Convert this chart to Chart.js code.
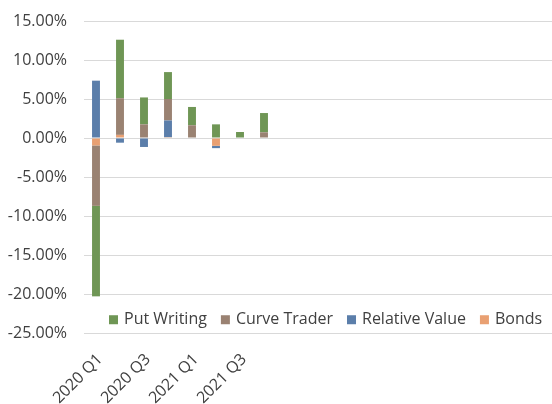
<!DOCTYPE html>
<html>
<head>
<meta charset="utf-8">
<script src="https://cdn.jsdelivr.net/npm/chart.js@4.4.1/dist/chart.umd.min.js"></script>
<style>
  html, body { margin: 0; padding: 0; background: #fff; overflow: hidden; }
  #wrap { width: 552px; height: 404px; overflow: hidden; }
  #chart { display: block; }
</style>
</head>
<body>
<!-- la zone du graphique déborde un peu à droite, comme dans l'original -->
<div id="wrap"><canvas id="chart" width="564" height="404"></canvas></div>
<script>
// ---------------------------------------------------------
// Données (en %)
// ---------------------------------------------------------

const quarters = ["2020 Q1", "2020 Q2", "2020 Q3", "2020 Q4", "2021 Q1", "2021 Q2", "2021 Q3", "2021 Q4",
                  "", "", "", "", "", "", "", "", "", "", "", ""];

const bonds         = [-0.95,  0.40,  0.00, 0.10, 0.00, -1.00, 0.00, 0.00];
const relativeValue = [ 7.35, -0.60, -1.15, 2.15, 0.00, -0.30, 0.00, 0.00];
const curveTrader   = [-7.75,  4.70,  1.75, 2.75, 1.63,  0.00, 0.00, 0.73];
const putWriting    = [-11.60, 7.50,  3.45, 3.45, 2.35,  1.75, 0.77, 2.47];

const yTicks = { min: -25, max: 15, step: 5 };

const textColor = "#404040";
const fontFamily = "'Open Sans', 'Noto Sans', sans-serif";
const noLine = "rgba(0,0,0,0)";

// ---------------------------------------------------------
// Légende dessinée dans la zone du graphique
// ---------------------------------------------------------

const innerLegend = {
    id: "innerLegend",
    afterDraw(chart) {
        const ctx = chart.ctx;
        const area = chart.chartArea;
        const items = chart.data.datasets.slice().reverse();
        const box = 9, gapText = 6, gapItem = 14;

        ctx.save();
        ctx.font = "16px " + fontFamily;
        ctx.textBaseline = "middle";
        ctx.textAlign = "left";

        let x = area.left + 25;
        const y = chart.scales.y.getPixelForValue(-23.3);

        items.forEach(d => {
            ctx.fillStyle = d.backgroundColor;
            ctx.fillRect(x, y - box / 2, box, box);
            ctx.fillStyle = textColor;
            ctx.fillText(d.label, x + box + gapText, y);
            x += box + gapText + ctx.measureText(d.label).width + gapItem;
        });
        ctx.restore();
    }
};

// ---------------------------------------------------------
// Graphique
// ---------------------------------------------------------

new Chart(document.getElementById("chart"), {

    type: "bar",

    data: {
        labels: quarters,
        datasets: [
            { label: "Bonds",          data: bonds,         backgroundColor: "#e9a072" },
            { label: "Relative Value", data: relativeValue, backgroundColor: "#5b7eaa" },
            { label: "Curve Trader",   data: curveTrader,   backgroundColor: "#9a8272" },
            { label: "Put Writing",    data: putWriting,    backgroundColor: "#6f9655" }
        ]
    },

    options: {
        responsive: false,
        animation: false,
        layout: { padding: { top: 21, right: 0, bottom: 0, left: 0 } },
        datasets: {
            bar: { categoryPercentage: 1, barPercentage: 0.33 }
        },
        plugins: {
            legend: { display: false },
            tooltip: { enabled: false }
        },
        scales: {
            x: {
                stacked: true,
                grid: { display: false, drawBorder: false, borderColor: noLine },
                border: { display: false, color: noLine },
                ticks: {
                    autoSkip: false,
                    maxRotation: 45,
                    minRotation: 45,
                    padding: 9,
                    labelOffset: 4,
                    color: textColor,
                    font: { family: fontFamily, size: 16 },
                    callback: function (value, index) {
                        return index % 2 === 0 ? this.getLabelForValue(value) : "";
                    }
                },
                afterFit: s => {
                    s.height = 71;
                    s.paddingLeft = 0;
                    s.paddingRight = 0;
                }
            },
            y: {
                stacked: true,
                min: yTicks.min,
                max: yTicks.max,
                grid: { color: "#d9d9d9", lineWidth: 1, drawTicks: false, drawBorder: false, borderColor: noLine },
                border: { display: false, color: noLine },
                ticks: {
                    stepSize: yTicks.step,
                    padding: 17,
                    color: textColor,
                    font: { family: fontFamily, size: 16 },
                    callback: v => v.toFixed(2) + "%"
                },
                afterFit: s => {
                    s.width = 84;
                    s.paddingTop = 0;
                    s.paddingBottom = 0;
                }
            }
        }
    },

    plugins: [innerLegend]

});
</script>
</body>
</html>
